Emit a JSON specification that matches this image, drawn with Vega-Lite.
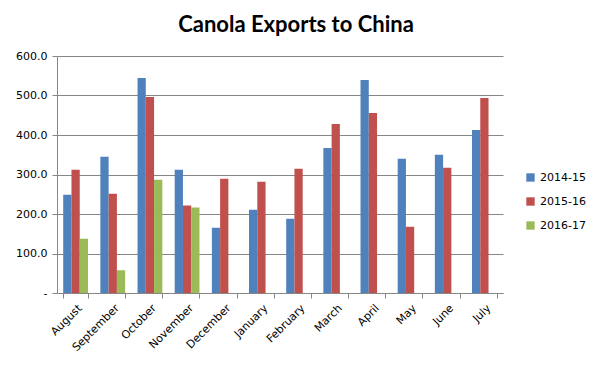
{
  "$schema": "https://vega.github.io/schema/vega-lite/v6.json",
  "autosize": {"type": "none"},
  "width": 446,
  "height": 237,
  "padding": {"left": 57, "top": 56, "right": 91, "bottom": 72},
  "background": "white",
  "title": {
    "text": "Canola Exports to China",
    "font": "Lato",
    "fontSize": 22,
    "fontWeight": "bold",
    "color": "black",
    "anchor": "middle",
    "dx": 16,
    "offset": 13
  },
  "data": {
    "values": [
      {"month": "August", "season": "2014-15", "value": 248.6},
      {"month": "August", "season": "2015-16", "value": 311.8},
      {"month": "August", "season": "2016-17", "value": 137.4},
      {"month": "September", "season": "2014-15", "value": 344.7},
      {"month": "September", "season": "2015-16", "value": 251.0},
      {"month": "September", "season": "2016-17", "value": 57.3},
      {"month": "October", "season": "2014-15", "value": 544.4},
      {"month": "October", "season": "2015-16", "value": 496.3},
      {"month": "October", "season": "2016-17", "value": 286.5},
      {"month": "November", "season": "2014-15", "value": 311.8},
      {"month": "November", "season": "2015-16", "value": 221.6},
      {"month": "November", "season": "2016-17", "value": 216.6},
      {"month": "December", "season": "2014-15", "value": 165.2},
      {"month": "December", "season": "2015-16", "value": 289.0},
      {"month": "January", "season": "2014-15", "value": 210.7},
      {"month": "January", "season": "2015-16", "value": 281.5},
      {"month": "February", "season": "2014-15", "value": 187.9},
      {"month": "February", "season": "2015-16", "value": 314.3},
      {"month": "March", "season": "2014-15", "value": 367.4},
      {"month": "March", "season": "2015-16", "value": 428.0},
      {"month": "April", "season": "2014-15", "value": 539.3},
      {"month": "April", "season": "2015-16", "value": 455.9},
      {"month": "May", "season": "2014-15", "value": 339.6},
      {"month": "May", "season": "2015-16", "value": 167.7},
      {"month": "June", "season": "2014-15", "value": 349.7},
      {"month": "June", "season": "2015-16", "value": 316.8},
      {"month": "July", "season": "2014-15", "value": 412.9},
      {"month": "July", "season": "2015-16", "value": 493.8}
    ]
  },
  "mark": {"type": "bar"},
  "encoding": {
    "x": {
      "field": "month",
      "type": "nominal",
      "sort": ["August","September","October","November","December","January","February","March","April","May","June","July"],
      "scale": {"paddingInner": 0.333, "paddingOuter": 0.167},
      "axis": {
        "title": null,
        "labelAngle": -45,
        "labelAlign": "right",
        "labelBaseline": "top",
        "labelFont": "DejaVu Sans",
        "labelFontSize": 11,
        "labelColor": "black",
        "tickBand": "extent",
        "tickSize": 5,
        "tickColor": "#868686",
        "domainColor": "#868686",
        "labelPadding": 4
      }
    },
    "xOffset": {
      "field": "season",
      "type": "nominal",
      "scale": {"domain": ["2014-15","2015-16","2016-17"], "paddingInner": 0, "paddingOuter": 0}
    },
    "y": {
      "field": "value",
      "type": "quantitative",
      "scale": {"domain": [0, 600], "nice": false},
      "axis": {
        "title": null,
        "values": [0, 100, 200, 300, 400, 500, 600],
        "labelExpr": "datum.value == 0 ? '-' : format(datum.value, '.1f')",
        "labelFont": "DejaVu Sans",
        "labelFontSize": 11,
        "labelColor": "black",
        "labelPadding": 5,
        "tickSize": 5,
        "tickColor": "#868686",
        "domainColor": "#868686",
        "gridColor": "#868686",
        "grid": true
      }
    },
    "color": {
      "field": "season",
      "type": "nominal",
      "scale": {"domain": ["2014-15","2015-16","2016-17"], "range": ["#4F81BD","#C0504D","#9BBB59"]},
      "legend": {
        "title": null,
        "orient": "none",
        "legendX": 468,
        "legendY": 116,
        "symbolType": "square",
        "symbolSize": 70,
        "symbolStrokeWidth": 0,
        "labelFont": "DejaVu Sans",
        "labelFontSize": 11,
        "labelColor": "black",
        "rowPadding": 12
      }
    }
  },
  "config": {
    "view": {"stroke": null}
  }
}
